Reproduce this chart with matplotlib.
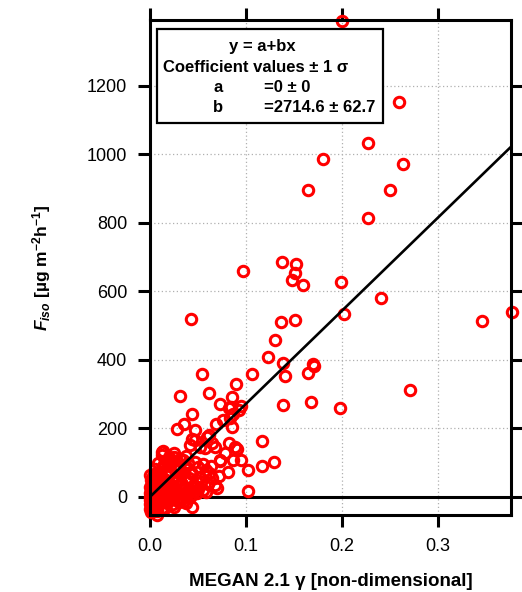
import matplotlib
matplotlib.use("Agg")
import matplotlib.pyplot as plt
from matplotlib.patches import Rectangle
import numpy as np

plt.rcParams['font.family'] = ['Liberation Sans', 'DejaVu Sans']
plt.rcParams['mathtext.fontset'] = 'custom'
plt.rcParams['mathtext.rm'] = 'Liberation Sans:bold'
plt.rcParams['mathtext.it'] = 'Liberation Sans:italic:bold'
plt.rcParams['mathtext.bf'] = 'Liberation Sans:bold'

# scattered points
gamma_outer = [0.200, 0.260, 0.227, 0.180, 0.264, 0.165, 0.250, 0.227, 0.1374, 0.152,
               0.151, 0.148, 0.160, 0.0972, 0.1993, 0.2406, 0.2021, 0.346, 0.378, 0.0423,
               0.1364, 0.1514, 0.130, 0.123, 0.1385, 0.170, 0.1713, 0.1643, 0.1406, 0.1063,
               0.0538, 0.0895, 0.0619, 0.0308, 0.271, 0.086, 0.0734, 0.1392, 0.1675, 0.1986,
               0.0822, 0.0927, 0.0867, 0.0441, 0.035, 0.028, 0.0472, 0.0692, 0.0762, 0.0857,
               0.0832, 0.0437, 0.0612, 0.0647, 0.0822, 0.117, 0.0126, 0.089, 0.084, 0.0944,
               0.0472, 0.0594, 0.091, 0.0734, 0.0811, 0.0944, 0.102, 0.1164, 0.129, 0.1025,
               0.0437, 0.007, 0.0787, 0.0727, 0.0867, 0.0577, 0.068, 0.0245, 0.042, 0.0524]
fiso_outer = [1390, 1153, 1034, 985, 972, 895, 895, 813, 686, 679,
              654, 633, 619, 659, 626, 581, 534, 513, 541, 518,
              511, 517, 457, 409, 391, 388, 383, 361, 352, 358,
              358, 330, 303, 294, 311, 291, 270, 267, 278, 258,
              258, 255, 243, 243, 214, 198, 195, 214, 224, 204,
              231, 170, 180, 156, 156, 162, 131, 146, 263, 266,
              165, 175, 141, 107, 73, 107, 78, 90, 102, 17,
              -29, -53, 127, 104, 107, 142, 146, 117, 151, 146]

# dense cluster near the origin (read row by row)
gamma_cluster = [0.012, 0.020, 0.025, 0.031, 0.037, 0.014, 0.018,
                 0.008, 0.015, 0.022, 0.028, 0.034, 0.040, 0.047, 0.055,
                 0.005, 0.012, 0.018, 0.025, 0.030, 0.036, 0.043, 0.050, 0.058, 0.064,
                 0.003, 0.008, 0.014, 0.020, 0.026, 0.032, 0.038, 0.044, 0.051, 0.057, 0.065, 0.072,
                 0.002, 0.006, 0.011, 0.016, 0.021, 0.027, 0.033, 0.039, 0.046, 0.053, 0.060, 0.068,
                 0.001, 0.004, 0.009, 0.013, 0.018, 0.024, 0.030, 0.036, 0.043, 0.050, 0.058,
                 0.000, 0.002, 0.005, 0.009, 0.014, 0.019, 0.025, 0.031, 0.038, 0.045,
                 0.000, 0.003, 0.007, 0.012, 0.018, 0.024, 0.030, 0.037,
                 0.002, 0.007, 0.015, 0.025,
                 0.001, 0.000, 0.004, 0.010, 0.017, 0.022, 0.028, 0.034, 0.041, 0.048,
                 0.003, 0.006, 0.011, 0.016, 0.021, 0.027, 0.033, 0.040, 0.062, 0.070,
                 0.000, 0.000, 0.000, 0.001, 0.001, 0.002, 0.000, 0.001, 0.003, 0.004,
                 0.005, 0.006, 0.008, 0.010, 0.012, 0.015, 0.019, 0.023, 0.027, 0.032,
                 0.007, 0.010, 0.013, 0.017, 0.021, 0.026, 0.035, 0.042, 0.049, 0.055]
fiso_cluster = [122, 115, 128, 112, 120, 135, 100,
                100, 95, 105, 92, 108, 98, 103, 96,
                80, 85, 74, 88, 78, 83, 72, 86, 79, 90,
                60, 66, 55, 68, 58, 63, 52, 67, 57, 62, 54, 60,
                40, 45, 36, 48, 33, 42, 38, 46, 35, 44, 39, 34,
                20, 25, 15, 28, 18, 22, 12, 26, 19, 24, 14,
                0, 5, -5, 8, -2, 4, 6, -3, 2, 7,
                -20, -15, -25, -12, -18, -22, -14, -19,
                -42, -38, -35, -30,
                -8, 12, 30, 50, 65, 10, -8, 20, 55, 30,
                -28, 70, 10, -10, 90, 60, -5, 15, 70, 25,
                -35, -10, 30, 50, 15, -30, 65, -45, 40, 10,
                -18, 55, 28, 5, 45, 30, 10, 35, 48, 40,
                -40, 0, -32, 12, -10, 5, -12, 0, 10, 20]

fit_b = 2714.6
fit_a = 0.0

x = np.array(gamma_outer + gamma_cluster)
y = np.array(fiso_outer + fiso_cluster)

fig = plt.figure(figsize=(5.22, 5.92), dpi=100)
ax = fig.add_axes([0.2874, 0.1306, 0.979 - 0.2874, 0.9662 - 0.1306])

ax.set_xlim(0, 0.3765)
ax.set_ylim(-52, 1392)

ax.grid(True, color='#b0b0b0', linestyle=(0, (1, 2)), linewidth=0.9)
ax.set_axisbelow(True)

ax.axhline(0, color='black', linewidth=2.2, zorder=1.5)

ax.plot(x, y, linestyle='none', marker='o', markersize=7.5, markerfacecolor='none',
        markeredgecolor='#ff0000', markeredgewidth=2.2, zorder=2, clip_on=False)

xf = np.array([0, 0.3765])
ax.plot(xf, fit_a + fit_b * xf, color='black', linewidth=1.9, zorder=3)

ax.set_xticks([0.0, 0.1, 0.2, 0.3])
ax.set_xticklabels(['0.0', '0.1', '0.2', '0.3'])
ax.set_yticks([0, 200, 400, 600, 800, 1000, 1200])
ax.tick_params(direction='out', length=8.5, width=2.2, labelsize=13, pad=8,
               top=True, right=True, labeltop=False, labelright=False)
for s in ax.spines.values():
    s.set_linewidth(2.2)
    s.set_zorder(4)

ax.set_xlabel('MEGAN 2.1 γ [non-dimensional]', fontsize=13.5, fontweight='bold', labelpad=13)
ax.set_ylabel(r'$\mathit{F}_{\mathit{iso}}$ [µg m$^{\mathrm{-2}}$h$^{\mathrm{-1}}$]',
              fontsize=12.5, fontweight='bold', labelpad=24)

# annotation box
bx0, by0, bx1, by1 = 157, 29, 383, 123
W, H = 522, 592
rect = Rectangle((bx0 / W, 1 - by1 / H), (bx1 - bx0) / W, (by1 - by0) / H,
                 transform=fig.transFigure, facecolor='white', edgecolor='black',
                 linewidth=1.6, zorder=5)
fig.patches.append(rect)
kw = dict(transform=fig.transFigure, fontsize=12, fontweight='bold', zorder=6,
          va='center')
fig.text(262 / W, 1 - 47 / H, 'y = a+bx', ha='center', **kw)
fig.text(163 / W, 1 - 68 / H, 'Coefficient values ± 1 σ', ha='left', **kw)
fig.text(213 / W, 1 - 88 / H, 'a', ha='left', **kw)
fig.text(264 / W, 1 - 88 / H, '=0 ± 0', ha='left', **kw)
fig.text(213 / W, 1 - 107 / H, 'b', ha='left', **kw)
fig.text(264 / W, 1 - 107 / H, '=2714.6 ± 62.7', ha='left', **kw)

fig.savefig('out.png', dpi=100)
